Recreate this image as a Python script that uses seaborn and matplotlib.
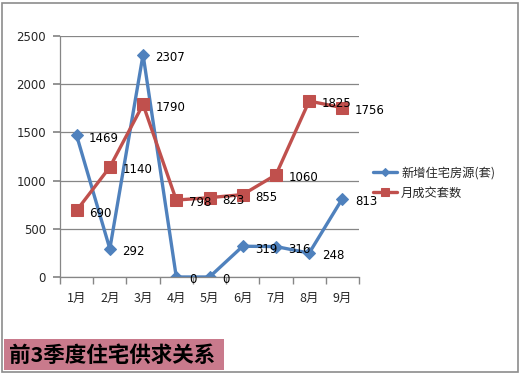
import matplotlib
matplotlib.use("Agg")
import matplotlib.pyplot as plt
import seaborn as sns
import pandas as pd
from matplotlib.patches import Rectangle

months = ["1月", "2月", "3月", "4月", "5月", "6月", "7月", "8月", "9月"]
supply = [1469, 292, 2307, 0, 0, 319, 316, 248, 813]
deals = [690, 1140, 1790, 798, 823, 855, 1060, 1825, 1756]
supply_name = "新增住宅房源(套)"
deals_name = "月成交套数"
title = "前3季度住宅供求关系"
yticks = [0, 500, 1000, 1500, 2000, 2500]

sns.set_theme(style="white")
plt.rcParams['font.family'] = ['Noto Sans CJK SC', 'DejaVu Sans']

fig = plt.figure(figsize=(5.21, 3.75), dpi=100)
ax = fig.add_axes([60/521, 1-277/375, (359-60)/521, (277-36)/375])

idx = list(range(len(months)))
df = pd.DataFrame({"idx": idx, "supply": supply, "deals": deals})
blue = "#4F81BD"
red = "#C0504D"
sns.lineplot(data=df, x="idx", y="supply", ax=ax, color=blue, marker="D",
             markersize=6, linewidth=2.4, markeredgecolor=blue, label=supply_name)
sns.lineplot(data=df, x="idx", y="deals", ax=ax, color=red, marker="s",
             markersize=8.5, linewidth=2.4, markeredgecolor=red, label=deals_name)

for i, v in enumerate(supply):
    ax.annotate(str(v), (i, v), xytext=(9, -2), textcoords="offset points",
                va="center", ha="left", fontsize=8.5, color="black",
                family=['DejaVu Sans'])
for i, v in enumerate(deals):
    ax.annotate(str(v), (i, v), xytext=(9, -2), textcoords="offset points",
                va="center", ha="left", fontsize=8.5, color="black",
                family=['DejaVu Sans'])

ax.set_xlim(-0.5, len(months) - 0.5)
ax.set_ylim(0, 2500)
ax.set_yticks(yticks)
ax.set_yticklabels([str(t) for t in yticks], fontsize=8.5, family=['DejaVu Sans'])
ax.set_xticks(idx)
ax.set_xticklabels(months, fontsize=9)
ax.set_xticks([i - 0.5 for i in range(len(months) + 1)], minor=True)
ax.tick_params(axis="x", which="major", length=0, pad=11)
ax.tick_params(axis="x", which="minor", length=5, color="#868686", direction="out", bottom=True)
ax.tick_params(axis="y", which="major", length=5, color="#868686", direction="out", left=True, pad=5)
ax.set_xlabel("")
ax.set_ylabel("")
ax.yaxis.grid(True, color="#868686", linewidth=0.9)
ax.set_axisbelow(True)
for s in ["top", "right"]:
    ax.spines[s].set_visible(False)
for s in ["left", "bottom"]:
    ax.spines[s].set_color("#868686")
    ax.spines[s].set_linewidth(0.9)

leg = ax.legend(loc="upper left", bbox_to_anchor=(1.03, 0.48), frameon=False,
                fontsize=8.8, handlelength=2.0, handletextpad=0.3, labelspacing=0.6,
                borderaxespad=0, markerscale=0.7)

# figure border
fig.patches.append(Rectangle((2/521, 3/375), 516/521, 369/375, transform=fig.transFigure,
                             fill=False, edgecolor="#8C8C8C", linewidth=1.2))
# title box
fig.patches.append(Rectangle((4/521, 1-370/375), 220/521, 31/375, transform=fig.transFigure,
                             facecolor="#C97A8C", edgecolor="none"))
fig.text(9/521, 1-355/375, title, fontsize=15.5, fontweight="bold", color="black",
         va="center", ha="left")

fig.savefig("out.png", dpi=100)
